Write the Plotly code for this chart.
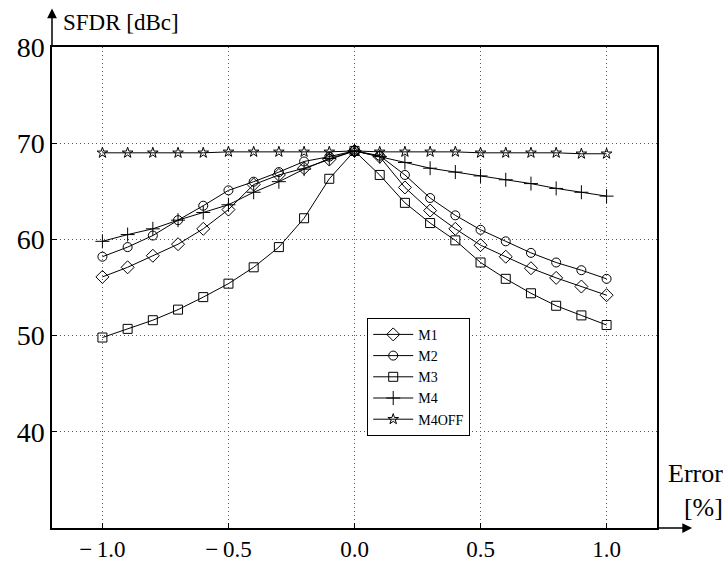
import plotly.graph_objects as go

# Relative error sweep [%]
error = [-1.0, -0.9, -0.8, -0.7, -0.6, -0.5, -0.4, -0.3, -0.2, -0.1,
         0.0, 0.1, 0.2, 0.3, 0.4, 0.5, 0.6, 0.7, 0.8, 0.9, 1.0]

# SFDR [dBc] per method
m1 = [56.1, 57.1, 58.3, 59.5, 61.1, 63.1, 65.7, 66.7, 67.4, 68.3,
      69.2, 68.6, 65.4, 63.0, 61.1, 59.4, 58.2, 57.0, 56.0, 55.1, 54.2]
m2 = [58.2, 59.2, 60.4, 62.0, 63.5, 65.1, 66.0, 67.0, 68.1, 68.6,
      69.2, 68.7, 66.7, 64.3, 62.5, 61.0, 59.8, 58.6, 57.6, 56.8, 55.9]
m3 = [49.8, 50.7, 51.6, 52.7, 54.0, 55.4, 57.1, 59.2, 62.2, 66.3,
      69.2, 66.7, 63.8, 61.7, 59.9, 57.6, 55.9, 54.4, 53.1, 52.1, 51.1]
m4 = [59.8, 60.5, 61.1, 62.0, 62.8, 63.6, 64.9, 66.0, 67.3, 68.4,
      69.2, 68.6, 68.0, 67.4, 67.0, 66.6, 66.2, 65.8, 65.3, 64.9, 64.5]
m4off = [69.0, 69.0, 69.0, 69.0, 69.0, 69.1, 69.1, 69.1, 69.1, 69.1,
         69.2, 69.1, 69.1, 69.1, 69.1, 69.0, 69.0, 69.0, 69.0, 68.9, 68.9]

series = [("M1", m1, "diamond-open", 10),
          ("M2", m2, "circle-open", 9),
          ("M3", m3, "square-open", 9),
          ("M4", m4, "cross-thin-open", 10),
          ("M4OFF", m4off, "star-open", 8)]

x_ticks = [-1.0, -0.5, 0.0, 0.5, 1.0]
x_ticktext = ["\u2212\u20091.0", "\u2212\u20090.5", "0.0", "0.5", "1.0"]
y_ticks = [40, 50, 60, 70, 80]

FONT = "Liberation Serif"

fig = go.Figure()
for name, vals, sym, sz in series:
    fig.add_trace(go.Scatter(
        x=error, y=vals, name=name, mode="lines+markers",
        line=dict(color="black", width=1),
        marker=dict(symbol=sym, size=sz, color="black",
                    line=dict(color="black", width=1)),
    ))

axis_common = dict(
    showline=True, linecolor="black", linewidth=1.5, mirror=True,
    showgrid=True, gridcolor="#555", griddash="1px,3px", gridwidth=1,
    zeroline=False, ticks="inside", ticklen=5, tickcolor="black",
    automargin=False,
)

fig.update_xaxes(range=[-1.2, 1.2], tickvals=x_ticks, ticktext=x_ticktext,
                 tickfont=dict(family=FONT, size=23, color="black"),
                 **axis_common)
fig.update_yaxes(range=[30, 80], tickvals=y_ticks,
                 tickfont=dict(family=FONT, size=28, color="black"),
                 **axis_common)

# Axis arrows
fig.add_annotation(x=0, y=1.08, xref="paper", yref="paper", text="",
                   showarrow=True, ax=0, ay=40, arrowhead=2, arrowsize=1.3,
                   arrowwidth=1.5, arrowcolor="black")
fig.add_annotation(x=1.058, y=0, xref="paper", yref="paper", text="",
                   showarrow=True, ax=-35, ay=0, arrowhead=2, arrowsize=1.3,
                   arrowwidth=1.5, arrowcolor="black")

# Axis titles
fig.add_annotation(x=0.015, y=1.05, xref="paper", yref="paper",
                   text="SFDR [dBc]", showarrow=False, xanchor="left",
                   yanchor="middle", font=dict(family=FONT, size=23, color="black"))
fig.add_annotation(x=1.112, y=0.079, xref="paper", yref="paper",
                   text="Error<br>[%]", showarrow=False, xanchor="right",
                   yanchor="middle", align="right",
                   font=dict(family=FONT, size=26, color="black"))

fig.update_layout(
    width=723, height=565,
    margin=dict(l=52, r=66, t=47, b=37),
    plot_bgcolor="white", paper_bgcolor="white",
    font=dict(family=FONT, color="black"),
    legend=dict(x=0.521, y=0.437, xanchor="left", yanchor="top",
                bgcolor="white", bordercolor="black", borderwidth=1,
                font=dict(family=FONT, size=14, color="black"),
                tracegroupgap=0, itemwidth=40),
    showlegend=True,
)

fig.write_html("out.html")
